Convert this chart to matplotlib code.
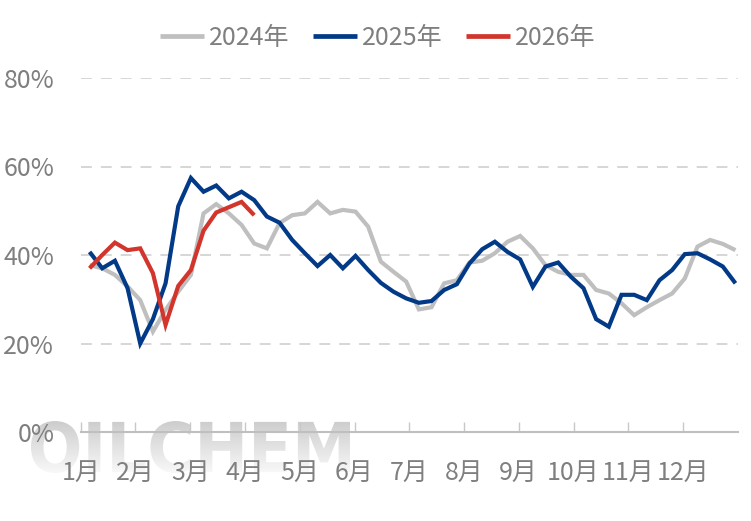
import matplotlib
matplotlib.use("Agg")
import matplotlib.pyplot as plt
import numpy as np
from matplotlib.textpath import TextPath
from matplotlib.patches import PathPatch
from matplotlib.font_manager import FontProperties
from matplotlib.transforms import Affine2D
from matplotlib.colors import LinearSegmentedColormap

plt.rcParams['font.family'] = ['Noto Sans CJK SC', 'DejaVu Sans']

# weekly values (%)
y2024 = [37.7, 37.0, 35.5, 32.9, 29.8, 22.7, 27.6, 31.7, 35.5, 49.4,
         51.5, 49.4, 46.8, 42.6, 41.5, 47.2, 49.0, 49.4, 52.0, 49.4,
         50.2, 49.8, 46.4, 38.5, 36.2, 34.0, 27.7, 28.2, 33.6, 34.3,
         38.3, 38.7, 40.4, 43.0, 44.3, 41.5, 37.7, 36.2, 35.5, 35.5,
         32.1, 31.3, 29.1, 26.4, 28.2, 29.8, 31.3, 34.7, 41.9, 43.4,
         42.5, 41.1]
y2025 = [40.7, 37.0, 38.7, 32.5, 20.0, 25.5, 33.6, 51.0, 57.4, 54.3,
         55.7, 52.8, 54.3, 52.4, 48.7, 47.3, 43.4, 40.4, 37.5, 40.0,
         37.0, 39.8, 36.6, 33.7, 31.7, 30.2, 29.2, 29.6, 32.1, 33.4,
         38.1, 41.3, 43.0, 40.7, 39.0, 32.8, 37.4, 38.3, 35.1, 32.5,
         25.5, 23.8, 31.0, 31.0, 29.8, 34.3, 36.6, 40.2, 40.4, 39.0,
         37.4, 33.6]
y2026 = [37.0, 40.0, 42.8, 41.1, 41.5, 35.9, 24.2, 33.0, 36.6, 45.5,
         49.6, 50.8, 52.0, 49.0]
months = ['1月', '2月', '3月', '4月', '5月', '6月', '7月', '8月', '9月', '10月', '11月', '12月']
yticks = [0, 20, 40, 60, 80]
series = ['2024年', '2025年', '2026年']
colors = ['#bfbfbf', '#023a87', '#d2352c']

W, H = 751, 521
fig = plt.figure(figsize=(W / 100, H / 100), dpi=100)

# watermark
wax = fig.add_axes([0, 0, 1, 1], zorder=0)
wax.set_xlim(0, W)
wax.set_ylim(0, H)
wax.axis('off')
tp = TextPath((0, 0), 'OILCHEM', size=100, prop=FontProperties(family='DejaVu Sans', weight='bold'))
ext = tp.get_extents()
x0, x1, yb, yt = 31, 350, H - 473, H - 421
tr = Affine2D().translate(-ext.x0, -ext.y0).scale((x1 - x0) / ext.width, (yt - yb) / ext.height).translate(x0, yb)
patch = PathPatch(tr.transform_path(tp), facecolor='none', edgecolor='none')
wax.add_patch(patch)
cmap = LinearSegmentedColormap.from_list('wm', ['#cdcdcd', '#f8f8f8'])
grad = np.linspace(0, 1, 100).reshape(-1, 1)
im = wax.imshow(grad, cmap=cmap, extent=[x0, x1, yb, yt], origin='upper', aspect='auto')
im.set_clip_path(patch)

ax = fig.add_axes([80.7 / W, 1 - 432 / H, (738 - 80.7) / W, (432 - 78) / H], zorder=1)
ax.set_facecolor('none')

for vals, name, c in zip([y2024, y2025, y2026], series, colors):
    ax.plot(np.arange(len(vals)), vals, color=c, lw=3.0, label=name,
            solid_joinstyle='miter', solid_capstyle='butt', clip_on=False)

ax.set_xlim(-0.7, 51.2)
ax.set_ylim(0, 80)
ax.set_yticks(yticks)
ax.set_yticklabels([f'{v}%' for v in yticks])
ax.set_xticks([-0.7 + 4.324 * m for m in range(12)])
ax.set_xticklabels(months)

for v in yticks[1:]:
    ax.axhline(v, color='#d3d3d3', lw=1.3, dashes=(6, 5), zorder=0)

for s in ['left', 'right', 'top']:
    ax.spines[s].set_visible(False)
ax.spines['bottom'].set_color('#bfbfbf')
ax.spines['bottom'].set_linewidth(1.5)
ax.tick_params(axis='y', length=0, pad=19, labelsize=18, labelcolor='#7f7f7f')
ax.tick_params(axis='x', direction='in', length=7, width=1, color='#c8c8c8',
               pad=20, labelsize=18, labelcolor='#7f7f7f')

leg = fig.legend(loc='center', bbox_to_anchor=(0.503, 0.928), ncol=3, frameon=False,
                 fontsize=18, handlelength=1.75, handletextpad=0.2, columnspacing=0.95)
for t in leg.get_texts():
    t.set_color('#7f7f7f')
for l in leg.get_lines():
    l.set_linewidth(3.4)

fig.savefig('out.png', dpi=100)
